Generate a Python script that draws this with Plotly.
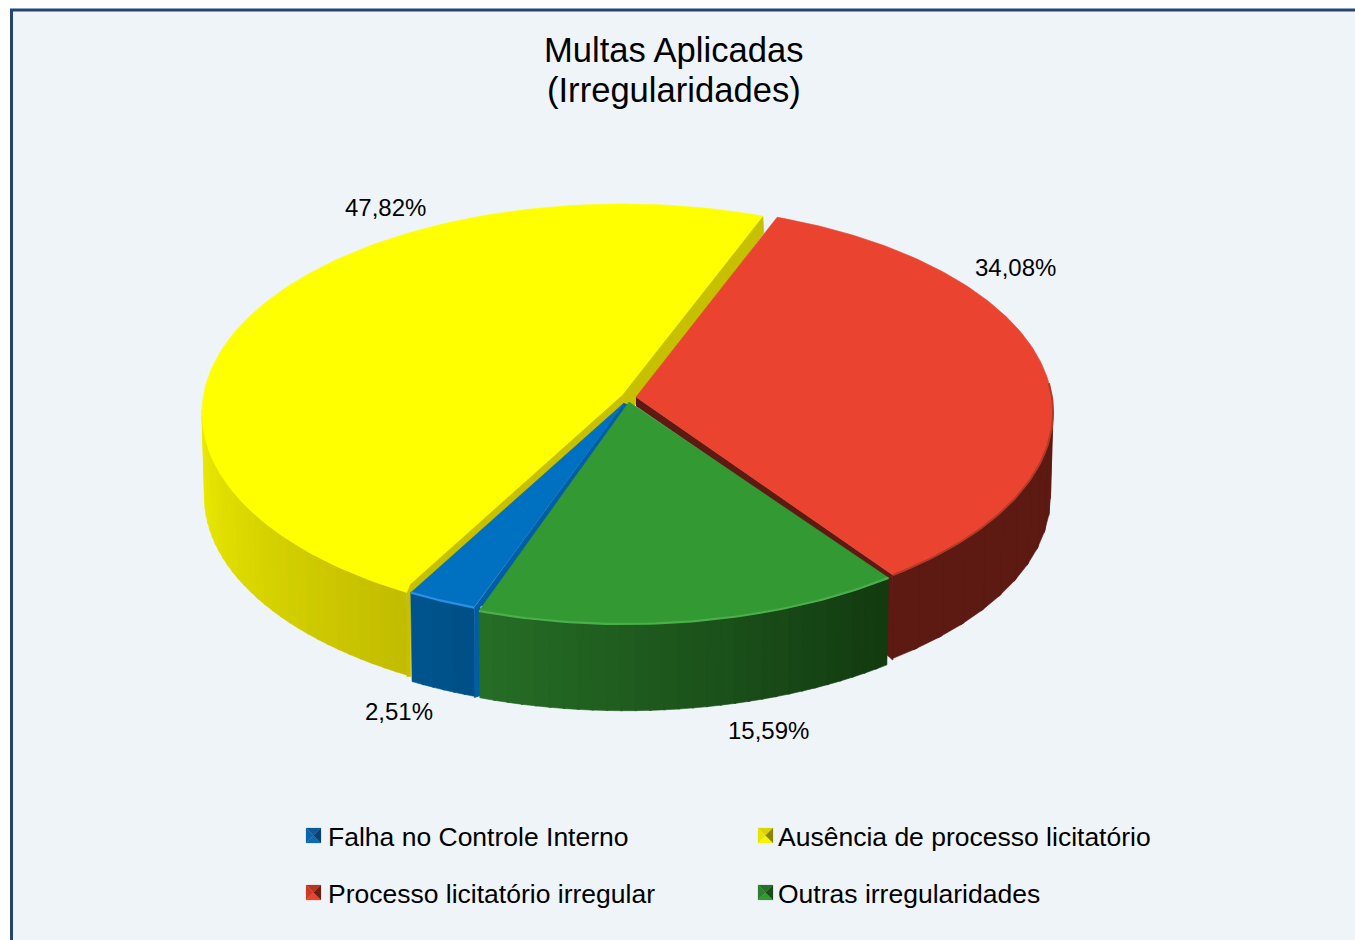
import math
import plotly.graph_objects as go

categories = ["Falha no Controle Interno", "Ausência de processo licitatório",
              "Processo licitatório irregular", "Outras irregularidades"]
values = [2.51, 47.82, 34.08, 15.59]
title_lines = ["Multas Aplicadas", "(Irregularidades)"]

START = 199.0   # clockwise from north, where the first slice begins
FONT = "Liberation Sans"

# per-slice drawing geometry (pixel space of the 1355x940 canvas)
GEOM = [
    dict(cx=622, cy=410, rx=422, ry=211, depth=90, adj=(1.5, 2.0)),
    dict(cx=622, cy=413, rx=420, ry=209, depth=84, adj=(2.8, -0.6)),
    dict(cx=636, cy=412, rx=417, ry=207, depth=85, adj=(-0.4, -0.9)),
    dict(cx=625, cy=412, rx=423, ry=212, depth=88, adj=(-1.4, 1.2)),
]
APEX = [(624, 403), (622, 395), (636, 397), (629, 402)]
TOP = ["#0070c0", "#ffff00", "#ea4430", "#339933"]
RIM = ["#2a90e4", "#fbfb10", "#b23a28", "#4cae4c"]
FACE = ["#005ea6", "#c6c000", "#5c1a12", "#1a5a1a"]
WALL_L = ["#00558f", "#eeee00", "#5c1a12", "#266e26"]
WALL_R = ["#004f86", "#c2bc00", "#5c1a12", "#123a10"]

fig = go.Figure()


def poly(xs, ys, color, lw=0.6):
    fig.add_trace(go.Scatter(x=xs, y=ys, mode="lines", fill="toself", fillcolor=color,
                             line=dict(color=color, width=lw), hoverinfo="skip", showlegend=False))


def rim_pt(g, deg, k=1.0, dy=0.0):
    t = math.radians(deg)
    return (g["cx"] + g["rx"] * k * math.sin(t), g["cy"] - g["ry"] * k * math.cos(t) + dy)


def hex2rgb(h):
    return [int(h[i:i + 2], 16) for i in (1, 3, 5)]


def mix(a, b, f):
    ca, cb = hex2rgb(a), hex2rgb(b)
    return "rgb(%d,%d,%d)" % tuple(round(p + (q - p) * f) for p, q in zip(ca, cb))


# slice angles from the values
spans = []
acc = START
for v, g in zip(values, GEOM):
    end = acc + v * 3.6
    spans.append((acc + g["adj"][0], end + g["adj"][1]))
    acc = end


def wall(i, a0, a1, n, left_first):
    g = GEOM[i]
    for s in range(n):
        t0 = a0 + (a1 - a0) * s / n
        t1 = a0 + (a1 - a0) * (s + 1.15) / n
        t1 = min(t1, a1) if a1 > a0 else max(t1, a1)
        p = [rim_pt(g, t0), rim_pt(g, t1), rim_pt(g, t1, 0.994, g["depth"]), rim_pt(g, t0, 0.994, g["depth"])]
        f = (s + 0.5) / n
        poly([q[0] for q in p] + [p[0][0]], [q[1] for q in p] + [p[0][1]], mix(WALL_L[i], WALL_R[i], f if left_first else 1 - f))


def top(i, chamfer=None):
    g = GEOM[i]
    a0, a1 = spans[i]
    n = 140
    angs = [a0 + (a1 - a0) * s / n for s in range(n + 1)]
    p = [rim_pt(g, a) for a in angs]
    if chamfer:
        p = [(p[0][0] + chamfer[0], p[0][1] + chamfer[1])] + p
    xs = [APEX[i][0]] + [q[0] for q in p] + [APEX[i][0]]
    ys = [APEX[i][1]] + [q[1] for q in p] + [APEX[i][1]]
    poly(xs, ys, TOP[i])
    return angs


def rim_line(i, a0, a1, width=2.2):
    g = GEOM[i]
    n = 60
    angs = [a0 + (a1 - a0) * s / n for s in range(n + 1)]
    p = [rim_pt(g, a) for a in angs]
    fig.add_trace(go.Scatter(x=[q[0] for q in p], y=[q[1] for q in p], mode="lines",
                             line=dict(color=RIM[i], width=width), hoverinfo="skip", showlegend=False))


# ---- yellow
ya0, ya1 = spans[1]
wall(1, 271, ya0, 30, True)
g = GEOM[1]
e = rim_pt(g, ya0)
poly([e[0], e[0] + 4, e[0] + 4, e[0]], [e[1], e[1] + 3, e[1] + g["depth"], e[1] + g["depth"]], FACE[1])
poly([APEX[1][0], e[0] + 3, e[0], e[0] + 6, APEX[1][0] + 6],
     [APEX[1][1], e[1] - 9, e[1], e[1] + 4, APEX[1][1] + 12], FACE[1])
e2 = rim_pt(g, ya1)
poly([APEX[1][0], e2[0], e2[0] + 1, APEX[1][0] + 14, APEX[1][0] + 6],
     [APEX[1][1], e2[1], e2[1] + 17, APEX[1][1] + 9, APEX[1][1] + 16], FACE[1])
top(1, chamfer=(3, -8))

# ---- red
ra0, ra1 = spans[2]
ra0m, ra1m = ra0 - 360, ra1 - 360
g = GEOM[2]
wall(2, 85, ra1m, 12, True)
e = rim_pt(g, ra1m)
poly([e[0] - 6, e[0], e[0], e[0] - 6], [e[1] + 4, e[1], e[1] + g["depth"], e[1] + g["depth"] - 5], FACE[2])
poly([APEX[2][0], e[0], e[0] - 6, APEX[2][0]],
     [APEX[2][1], e[1], e[1] + 4, APEX[2][1] + 9], FACE[2])
top(2)
rim_line(2, 82, ra1m, 2.0)

# ---- blue
ba0, ba1 = spans[0]
g = GEOM[0]
wall(0, ba1, ba0, 6, True)
e = rim_pt(g, ba0)
poly([e[0], e[0] + 6, e[0] + 6, e[0]], [e[1], e[1] - 4, e[1] + g["depth"] - 2, e[1] + g["depth"]], FACE[0])
poly([APEX[0][0], e[0], e[0] + 9, APEX[0][0] + 7],
     [APEX[0][1], e[1], e[1] - 2, APEX[0][1] + 3], FACE[0])
top(0)
rim_line(0, ba0, ba1)

# ---- green
ga0, ga1 = spans[3]
ga0m, ga1m = ga0 - 360, ga1 - 360
g = GEOM[3]
wall(3, ga1m if ga1m > 0 else ga1, ga0m if ga0m > 0 else ga0, 30, True)
top(3)
rim_line(3, ga0m if ga0m > 0 else ga0, ga1m if ga1m > 0 else ga1)

# ---- legend swatches (bevelled squares)
SW_POS = [(306, 828), (758, 828), (306, 885), (758, 885)]
SW = 15
SW_TOP = ["#0a5a9c", "#d8d400", "#b8361f", "#27702b"]
SW_LEFT = ["#0a64aa", "#e8e400", "#c83c25", "#2c8030"]
SW_BOT = ["#0a6ab4", "#f6f600", "#e8452f", "#339933"]
SW_DARK = ["#0a3f6e", "#8a8600", "#6a2012", "#1b4d1c"]
TEXT_X = [328, 778, 328, 778]
for i, (sx, sy) in enumerate(SW_POS):
    c = (sx + SW / 2, sy + SW / 2)
    poly([sx, sx + SW, c[0], sx], [sy, sy, c[1], sy], SW_TOP[i], 0.2)
    poly([sx, sx + SW, c[0], sx], [sy + SW, sy + SW, c[1], sy + SW], SW_BOT[i], 0.2)
    poly([sx, sx, c[0], sx], [sy, sy + SW, c[1], sy], SW_LEFT[i], 0.2)
    poly([sx + SW, sx + SW, c[0], sx + SW], [sy, sy + SW, c[1], sy], SW_DARK[i], 0.2)

# ---- text
ann = []
for line, y in zip(title_lines, (50, 90)):
    ann.append(dict(x=673.5, y=y, text=line, font=dict(size=34.6, color="#000000", family=FONT),
                    showarrow=False, xanchor="center", yanchor="middle"))
LABEL_POS = [(399, 711), (385, 207), (1015, 267), (768.5, 730)]
for v, (x, y) in zip(values, LABEL_POS):
    ann.append(dict(x=x, y=y, text=f"{v:.2f}".replace(".", ",") + "%",
                    font=dict(size=24, color="#000000", family=FONT),
                    showarrow=False, xanchor="center", yanchor="middle"))
for name, tx, (sx, sy) in zip(categories, TEXT_X, SW_POS):
    ann.append(dict(x=tx, y=sy + 8.6, text=name, font=dict(size=26.5, color="#000000", family=FONT),
                    showarrow=False, xanchor="left", xshift=-2, yanchor="middle"))

fig.update_layout(
    width=1355, height=940, margin=dict(l=0, r=0, t=0, b=0, pad=0),
    paper_bgcolor="#ffffff", plot_bgcolor="#ffffff", showlegend=False,
    xaxis=dict(range=[0, 1355], visible=False, fixedrange=True),
    yaxis=dict(range=[940, 0], visible=False, fixedrange=True),
    shapes=[dict(type="rect", xref="x", yref="y", x0=11.5, y0=10, x1=1420, y1=1000, layer="below",
                 fillcolor="#eff4f9", line=dict(color="#24456f", width=3))],
    annotations=ann,
)
fig.write_html("out.html", post_script="document.body.style.margin='0';", config={"displayModeBar": False})
